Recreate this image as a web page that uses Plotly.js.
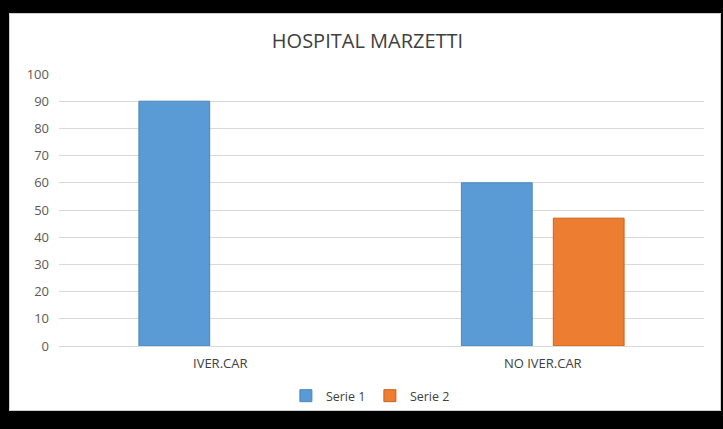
<!DOCTYPE html>
<html>
<head>
<meta charset="utf-8">
<script src="https://cdn.plot.ly/plotly-3.0.1.min.js"></script>
<style>
html,body{margin:0;padding:0;background:#000;width:723px;height:429px;overflow:hidden;}
#panel{position:absolute;left:9px;top:13px;width:712px;height:398px;background:#fff;box-sizing:border-box;border:1px solid #cfcfcf;}
#chart{position:absolute;left:0;top:0;width:723px;height:429px;}
</style>
</head>
<body>
<div id="panel"></div>
<div id="chart"></div>
<script>
const categories = ["IVER.CAR", "NO IVER.CAR"];
const serie1 = [90, 60];
const serie2 = [null, 47];
const seriesNames = ["Serie 1", "Serie 2"];
const yTicks = [0, 10, 20, 30, 40, 50, 60, 70, 80, 90, 100];

const traces = [
  {type: "bar", name: seriesNames[0], x: categories, y: serie1,
   marker: {color: "#5B9BD5", line: {color: "#4A86BE", width: 1}}},
  {type: "bar", name: seriesNames[1], x: categories, y: serie2,
   marker: {color: "#ED7D31", line: {color: "#C9621F", width: 1}}}
];

const layout = {
  width: 723, height: 429,
  margin: {l: 59, r: 19, t: 74, b: 83},
  paper_bgcolor: "rgba(0,0,0,0)",
  plot_bgcolor: "#fff",
  barmode: "group",
  bargap: 0.43,
  bargroupgap: 0.23,
  title: {text: "HOSPITAL MARZETTI", x: 367.5/723, xanchor: "center", y: 1 - 41/429, yanchor: "middle",
          font: {family: "Open Sans, Liberation Sans, sans-serif", size: 20, color: "#404040"}},
  font: {family: "Open Sans, Liberation Sans, sans-serif", color: "#595959", size: 13},
  xaxis: {type: "category", showgrid: false, showline: false, zeroline: false, ticks: "",
          ticklabelstandoff: 8, tickfont: {size: 13, color: "#404040"}},
  yaxis: {range: [0, 100], tickvals: yTicks, showgrid: true, gridcolor: "#D9D9D9", gridwidth: 1,
          zeroline: true, zerolinecolor: "#D9D9D9", showline: false, ticks: "",
          ticklabelstandoff: 9, tickfont: {size: 13, color: "#595959"}},
  showlegend: true,
  legend: {orientation: "h", x: 0.482, xanchor: "center", y: -0.184, yanchor: "middle",
           font: {size: 12.5, color: "#404040"}, itemwidth: 30, entrywidth: 39, entrywidthmode: "pixels",
           traceorder: "normal"}
};

Plotly.newPlot("chart", traces, layout, {displayModeBar: false, staticPlot: true});
</script>
</body>
</html>
